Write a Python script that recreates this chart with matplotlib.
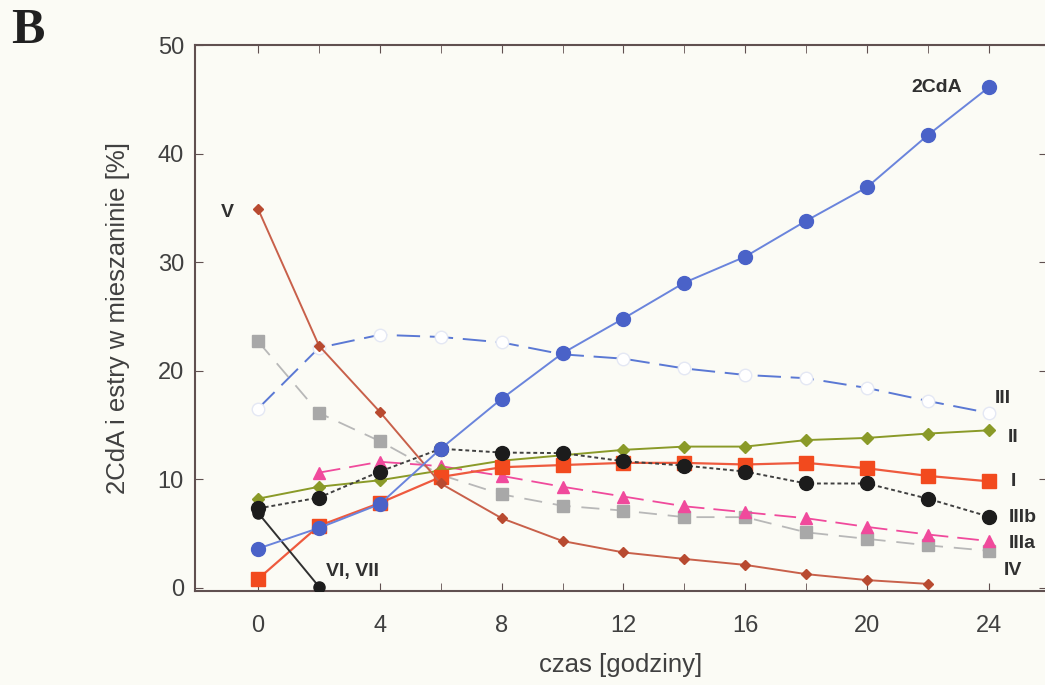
import matplotlib.pyplot as plt

hours = [0, 2, 4, 6, 8, 10, 12, 14, 16, 18, 20, 22, 24]

cda = [3.6, 5.5, 7.7, 12.8, 17.4, 21.6, 24.8, 28.1, 30.5, 33.8, 36.9, 41.7, 46.1]
ester_iii = [16.5, 22.1, 23.3, 23.1, 22.6, 21.5, 21.1, 20.2, 19.6, 19.3, 18.4, 17.2, 16.1]
ester_ii = [8.2, 9.3, 9.9, 10.8, 11.7, 12.2, 12.7, 13.0, 13.0, 13.6, 13.8, 14.2, 14.5]
ester_i = [0.8, 5.7, 7.8, 10.2, 11.1, 11.3, 11.5, 11.5, 11.35, 11.5, 11.0, 10.3, 9.8]
ester_iiib = [7.3, 8.3, 10.7, 12.8, 12.45, 12.4, 11.65, 11.25, 10.7, 9.6, 9.6, 8.2, 6.55]
hours_iiia = hours[1:]
ester_iiia = [10.6, 11.6, 11.2, 10.3, 9.3, 8.4, 7.5, 6.95, 6.4, 5.6, 4.9, 4.3]
ester_iv = [22.7, 16.1, 13.5, 10.4, 8.6, 7.55, 7.1, 6.5, 6.5, 5.1, 4.5, 3.9, 3.4]
hours_v = hours[:-1]
ester_v = [34.9, 22.3, 16.2, 9.6, 6.4, 4.3, 3.25, 2.65, 2.1, 1.25, 0.7, 0.35]
hours_vi = [0, 2]
ester_vi = [6.9, 0.1]

labels = ["2CdA", "V", "III", "II", "I", "IIIb", "IIIa", "IV", "VI, VII"]
label_pos = [(22.3, 46.1), (-1.0, 34.6), (24.45, 17.4), (24.8, 13.8), (24.8, 9.8),
             (25.1, 6.5), (25.1, 4.1), (24.8, 1.6), (3.1, 1.5)]

plt.rcParams['font.family'] = ['Liberation Sans', 'DejaVu Sans']

bg = '#fbfbf5'
fig = plt.figure(figsize=(10.45, 6.85), dpi=100, facecolor=bg)
ax = fig.add_axes([0.1866, 0.1373, 0.815, 0.797])
ax.set_facecolor(bg)

ax.plot(hours, ester_iii, color='#5a78d4', lw=1.4, dashes=(12, 5), marker='o', ms=9,
        mfc='white', mec='#e4e8f4', zorder=2)
ax.plot(hours, ester_iv, color='#b8b8b8', lw=1.3, dashes=(10, 6), marker='s', ms=9,
        mfc='#a8a8a8', mec='#a8a8a8', zorder=3)
ax.plot(hours_iiia, ester_iiia, color='#f04a9c', lw=1.3, dashes=(12, 5), marker='^', ms=8,
        mfc='#f04a9c', mec='#f04a9c', zorder=3)
ax.plot(hours, ester_ii, color='#8a9a28', lw=1.4, marker='D', ms=6,
        mfc='#8a9a28', mec='#8a9a28', zorder=4)
ax.plot(hours, ester_i, color='#ee5a3e', lw=1.6, marker='s', ms=10,
        mfc='#f24a1e', mec='#f24a1e', zorder=4)
ax.plot(hours, ester_iiib, color='#404040', lw=1.4, ls=(0, (2, 1.5)), marker='o', ms=10,
        mfc='#1c1c1c', mec='#1c1c1c', zorder=5)
ax.plot(hours_vi, ester_vi, color='#303030', lw=1.4, marker='o', ms=8,
        mfc='#1c1c1c', mec='#1c1c1c', zorder=5)
ax.plot(hours_v, ester_v, color='#c8604a', lw=1.4, marker='D', ms=5.5,
        mfc='#b84a30', mec='#b84a30', zorder=6)
ax.plot(hours, cda, color='#6a84dc', lw=1.4, marker='o', ms=10,
        mfc='#4a62c8', mec='#4a62c8', zorder=7)

for text, (lx, ly) in zip(labels, label_pos):
    ax.text(lx, ly, text, fontsize=14, fontweight='bold', color='#303030',
            ha='center', va='center', zorder=8)

ax.set_xlim(-2.07, 25.9)
ax.set_ylim(-0.3, 50)
ax.set_xticks(range(0, 25, 4))
ax.set_xticks(range(2, 25, 4), minor=True)
ax.set_yticks(range(0, 51, 10))
ax.tick_params(which='both', direction='in', top=True, right=True, length=6,
               color='#605050', labelsize=17, labelcolor='#404040')
ax.tick_params(axis='x', pad=17)
ax.tick_params(axis='y', pad=8)
for spine in ax.spines.values():
    spine.set_color('#605050')
    spine.set_linewidth(1.5)

ax.set_xlabel('czas [godziny]', fontsize=18.5, color='#404040', labelpad=12)
ax.set_ylabel('2CdA i estry w mieszaninie [%]', fontsize=18.5, color='#404040', labelpad=20)

fig.text(0.027, 0.955, 'B', family='Liberation Serif', fontweight='bold', fontsize=36,
         color='#202020', ha='center', va='center')

fig.savefig('out.png', dpi=100, facecolor=bg)
